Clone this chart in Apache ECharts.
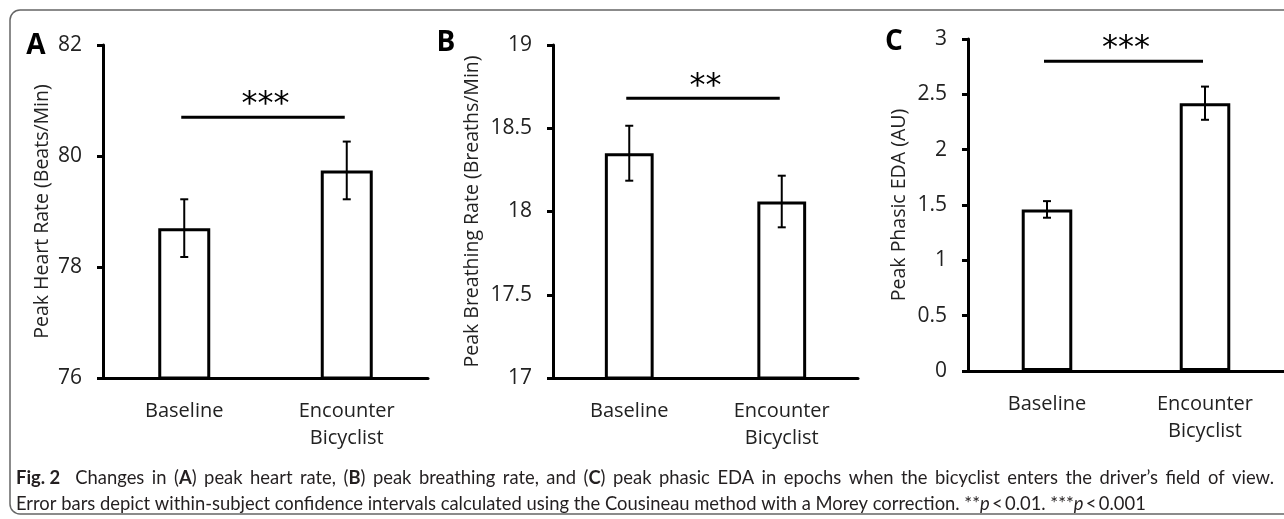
<!DOCTYPE html>
<html><head><meta charset="utf-8">
<script src="https://cdn.jsdelivr.net/npm/echarts@6/dist/echarts.min.js"></script>
<style>html,body{margin:0;padding:0;background:#fff}#c{width:1284px;height:519px}</style>
</head><body><div id="c"></div>
<script>
const categories = ['Baseline', 'Encounter\nBicyclist'];
const hrMean = [78.70, 79.74];
const hrErr = [0.52, 0.52];
const brMean = [18.35, 18.06];
const brErr = [0.165, 0.155];
const edaMean = [1.46, 2.42];
const edaErr = [0.075, 0.15];
const sigLevel = [80.70, 18.68, 2.80];
const sigLabel = ['***', '**', '***'];
const panelLetters = ['A', 'B', 'C'];
const yNames = ['Peak Heart Rate (Beats/Min)', 'Peak Breathing Rate (Breaths/Min)', 'Peak Phasic EDA (AU)'];
const yMin = [76, 17, 0];
const yMax = [82, 19, 3];
const yInterval = [2, 0.5, 0.5];
const captionLine1 = '{b|Fig.\u00a02}  Changes in ({b|A}) peak heart rate, ({b|B}) peak breathing rate, and ({b|C}) peak phasic EDA in epochs when the bicyclist enters the driver\u2019s field of view.';
const captionLine2 = 'Error bars depict within-subject confidence intervals calculated using the Cousineau method with a Morey correction. **{i|p}\u2009<\u20090.01. ***{i|p}\u2009<\u20090.001';

const means = [hrMean, brMean, edaMean];
const errs = [hrErr, brErr, edaErr];
const FONT = '"Open Sans", "Noto Sans", sans-serif';
const CAP = 'Lato, "Noto Sans", sans-serif';
const CAPSIZE = 18.4;
const CAP_LEFT = 16, CAP_RIGHT = 1274;

// justify first caption line (as in the typeset reference)
function justify(line) {
  const cv = document.createElement('canvas').getContext('2d');
  const words = line.split(' ');
  let total = 0;
  words.forEach(w => {
    const re = /\{b\|([^}]*)\}|([^{]+)/g; let m;
    while ((m = re.exec(w))) {
      if (m[1] !== undefined) { cv.font = 'bold ' + CAPSIZE + 'px ' + CAP; total += cv.measureText(m[1]).width; }
      else { cv.font = CAPSIZE + 'px ' + CAP; total += cv.measureText(m[2]).width; }
    }
  });
  const sw = Math.max(2, (CAP_RIGHT - CAP_LEFT - total) / (words.length - 1));
  return {text: words.join('{s|\u00a0}'), sw: sw};
}
const j1 = justify(captionLine1);

const grids = [
  {left: 103, right: 856, top: 45, bottom: 141},
  {left: 553, right: 426, top: 45, bottom: 141},
  {left: 968, right: 0, top: 39, bottom: 148}
];
const nameGaps = [51, 71, 59];

const xAxes = [], yAxes = [], series = [];
for (let i = 0; i < 3; i++) {
  xAxes.push({
    type: 'category', gridIndex: i, data: categories,
    axisLine: {lineStyle: {color: '#000', width: 3}},
    axisTick: {show: false},
    axisLabel: {color: '#222', fontSize: 20, fontFamily: FONT, margin: 20, lineHeight: 27}
  });
  yAxes.push({
    type: 'value', gridIndex: i, min: yMin[i], max: yMax[i], interval: yInterval[i],
    name: yNames[i], nameLocation: 'middle', nameGap: nameGaps[i],
    nameTextStyle: {color: '#222', fontSize: 19.5, fontFamily: FONT},
    axisLine: {show: true, lineStyle: {color: '#000', width: 3}},
    axisTick: {show: true, length: 6, lineStyle: {color: '#000', width: 3}},
    splitLine: {show: false},
    axisLabel: {color: '#222', fontSize: 21, fontFamily: FONT, margin: 21}
  });
  series.push({
    type: 'bar', xAxisIndex: i, yAxisIndex: i, data: means[i], barWidth: '32%',
    itemStyle: {color: '#fff', borderColor: '#000', borderWidth: 3}, z: 1
  });
  const m = means[i], e = errs[i];
  series.push({
    type: 'custom', xAxisIndex: i, yAxisIndex: i, z: 5,
    data: m.map((v, k) => [k, v - e[k], v + e[k]]),
    renderItem: function (params, api) {
      const lo = api.coord([api.value(0), api.value(1)]);
      const hi = api.coord([api.value(0), api.value(2)]);
      const c = 4;
      const st = {stroke: '#000', lineWidth: 2};
      return {type: 'group', children: [
        {type: 'line', shape: {x1: lo[0], y1: lo[1], x2: hi[0], y2: hi[1]}, style: st},
        {type: 'line', shape: {x1: lo[0] - c, y1: lo[1], x2: lo[0] + c, y2: lo[1]}, style: st},
        {type: 'line', shape: {x1: hi[0] - c, y1: hi[1], x2: hi[0] + c, y2: hi[1]}, style: st}
      ]};
    }
  });
  series.push({
    type: 'custom', xAxisIndex: i, yAxisIndex: i, z: 5,
    data: [[0, 1, sigLevel[i]]],
    renderItem: function (params, api) {
      const a = api.coord([api.value(0), api.value(2)]);
      const b = api.coord([api.value(1), api.value(2)]);
      return {type: 'group', children: [
        {type: 'line', shape: {x1: a[0] - 3, y1: a[1], x2: b[0] - 2, y2: b[1]}, style: {stroke: '#000', lineWidth: 3}},
        {type: 'text', x: (a[0] + b[0]) / 2, y: a[1] - 12,
         style: {text: sigLabel[i], fontSize: 32, fontFamily: '"DejaVu Sans", sans-serif', fill: '#000',
                 align: 'center', verticalAlign: 'middle'}}
      ]};
    }
  });
}

const letterPos = [[36, 46], [446, 43], [894, 42]];
const capRich = {
  b: {fontSize: CAPSIZE, fontWeight: 'bold', fontFamily: CAP, fill: '#231f20'},
  i: {fontSize: CAPSIZE, fontStyle: 'italic', fontFamily: CAP, fill: '#231f20'},
  s: {fontSize: CAPSIZE, fontFamily: CAP, width: j1.sw}
};
const graphic = [
  {type: 'rect', shape: {x: 10, y: 10, width: 1290, height: 504, r: 10},
   style: {fill: 'none', stroke: '#666', lineWidth: 1.5}, z: 0},
  {type: 'text', left: CAP_LEFT, top: 469, style: {text: j1.text, fontSize: CAPSIZE, fontFamily: CAP, fill: '#231f20', rich: capRich}},
  {type: 'text', left: CAP_LEFT, top: 495, style: {text: captionLine2, fontSize: CAPSIZE, fontFamily: CAP, fill: '#231f20', rich: capRich}}
];
panelLetters.forEach((L, i) => {
  graphic.push({type: 'text', x: letterPos[i][0], y: letterPos[i][1],
    style: {text: L, fontSize: 28, fontWeight: 'bold', fontFamily: '"Open Sans", sans-serif', fill: '#000',
            align: 'center', verticalAlign: 'middle'}});
});

const chart = echarts.init(document.getElementById('c'), null, {renderer: 'canvas'});
chart.setOption({
  animation: false,
  grid: grids,
  xAxis: xAxes,
  yAxis: yAxes,
  series: series,
  graphic: graphic
});
</script>
</body></html>
